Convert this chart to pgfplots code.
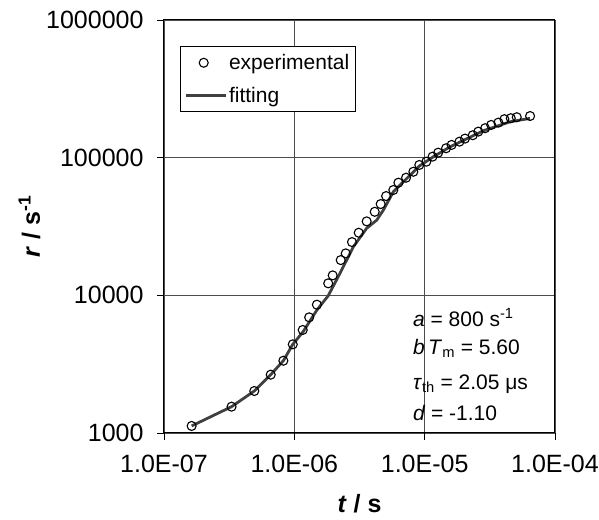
\documentclass[border=0pt]{standalone}
\usepackage{pgfplots}
\pgfplotsset{compat=1.18}
\usepackage{fontspec}
\setmainfont{Liberation Sans}
\pgfplotsset{
  legline/.style={legend image code/.code={\draw[##1, line width=2.6pt] (0pt,0pt) -- (40pt,0pt);}},
  legmark/.style={legend image code/.code={\path (0pt,0pt) (40pt,0pt); \draw[##1] plot coordinates {(18pt,0pt)};}},
}
\begin{document}
\begin{tikzpicture}
\path[use as bounding box] (0,0) rectangle (599pt,519pt);
\begin{axis}[
  at={(164pt,86pt)}, anchor=south west,
  scale only axis, width=391pt, height=413pt,
  xmode=log, ymode=log,
  xmin=1e-7, xmax=1e-4, ymin=1e3, ymax=1e6,
  xtick={1e-7,1e-6,1e-5,1e-4},
  xticklabels={1.0E-07,1.0E-06,1.0E-05,1.0E-04},
  ytick={1e3,1e4,1e5,1e6},
  yticklabels={1000,10000,100000,1000000},
  xminorticks=false, yminorticks=false,
  xtick pos=bottom, ytick pos=left,
  tick align=outside, major tick length=7pt,
  tick style={black, line width=0.8pt},
  grid=major, major grid style={black!70, line width=0.8pt},
  axis line style={black, line width=1pt},
  ticklabel style={font=\fontsize{25}{29}\selectfont},
  xticklabel style={yshift=-12pt},
  yticklabel style={xshift=-10pt},
  xlabel={\textbf{\textit{t}} \textbf{/ s}},
  ylabel={\textbf{\textit{r}} \textbf{/ s\textsuperscript{-1}}},
  label style={font=\fontsize{25}{29}\selectfont},
  xlabel style={yshift=-14pt},
  ylabel style={yshift=-1pt},
  legend style={at={(rel axis cs:0.041,0.937)}, anchor=north west,
    font=\fontsize{21}{24}\selectfont, draw=black, line width=0.8pt,
    inner xsep=4pt, inner ysep=6pt, row sep=12pt},
  legend cell align=left,
]
\addplot[only marks, mark=o, mark size=4.5pt, mark options={black, line width=1.1pt}, legmark]
coordinates {
(1.63e-7,1125) (3.30e-7,1553) (4.93e-7,2018) (6.59e-7,2652) (8.24e-7,3350)
(9.73e-7,4405) (1.16e-6,5600) (1.30e-6,6920) (1.49e-6,8550) (1.82e-6,12220)
(1.97e-6,13960) (2.27e-6,18030) (2.48e-6,20170) (2.77e-6,24370) (3.12e-6,28490)
(3.59e-6,34450) (4.14e-6,40440) (4.60e-6,46020) (5.06e-6,52600) (5.75e-6,58200)
(6.29e-6,65800) (7.20e-6,71500) (8.19e-6,79000) (9.10e-6,88500) (1.03e-5,93500)
(1.15e-5,101700) (1.27e-5,108700) (1.46e-5,117000) (1.61e-5,123700) (1.85e-5,130700)
(2.04e-5,137500) (2.34e-5,145500) (2.58e-5,154600) (2.91e-5,163600) (3.24e-5,172900)
(3.68e-5,179700) (4.09e-5,190300) (4.58e-5,193400) (5.09e-5,196700) (6.44e-5,200600)
};
\addlegendentry{experimental}
\addplot[color=black!75, line width=2.8pt, no marks, legline]
coordinates {
(1.63e-7,1125) (3.30e-7,1553) (4.93e-7,2018) (6.59e-7,2652) (8.24e-7,3350)
(9.73e-7,4405) (1.17e-6,5450) (1.49e-6,7820) (1.82e-6,9930) (2.24e-6,14450)
(2.84e-6,22550) (3.59e-6,30700) (4.29e-6,35200) (4.82e-6,41600) (5.75e-6,56500)
(9.10e-6,86900) (1.17e-5,101700) (1.57e-5,120000) (2.82e-5,156800) (4.53e-5,182300)
(6.44e-5,193000)
};
\addlegendentry{fitting}
\node[anchor=west, font=\fontsize{21}{24}\selectfont] at (rel axis cs:0.628,0.280) {\textit{a} = 800 s\textsuperscript{-1}};
\node[anchor=west, font=\fontsize{21}{24}\selectfont] at (rel axis cs:0.628,0.204) {\textit{b}\,\textit{T}\textsubscript{m} = 5.60};
\node[anchor=west, font=\fontsize{21}{24}\selectfont] at (rel axis cs:0.628,0.119) {\textit{τ}\textsubscript{th} = 2.05 μs};
\node[anchor=west, font=\fontsize{21}{24}\selectfont] at (rel axis cs:0.628,0.048) {\textit{d} = -1.10};
\end{axis}
\end{tikzpicture}
\end{document}
